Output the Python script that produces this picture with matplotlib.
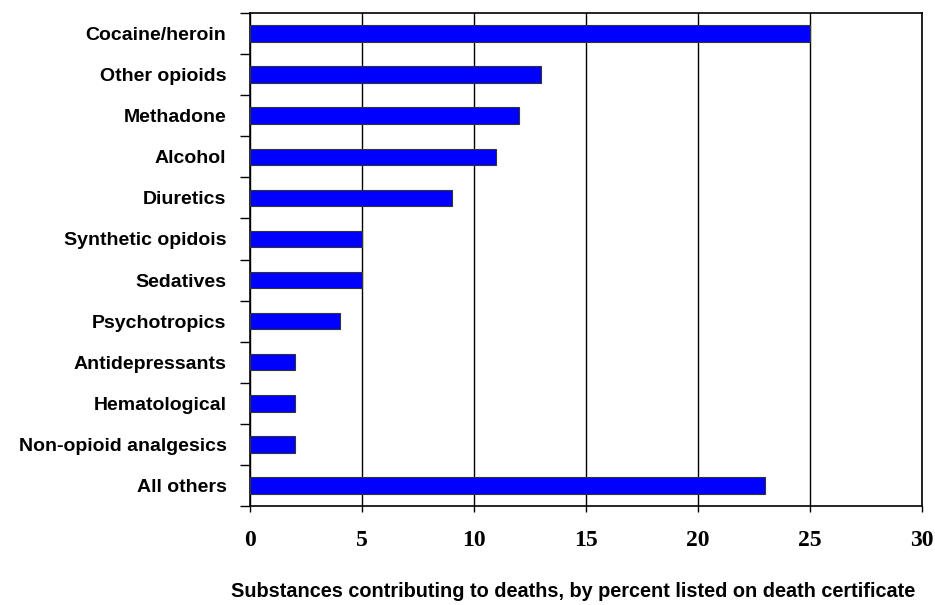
import matplotlib
matplotlib.use("Agg")
import matplotlib.pyplot as plt
import numpy as np

categories = [
    "Cocaine/heroin", "Other opioids", "Methadone", "Alcohol", "Diuretics",
    "Synthetic opidois", "Sedatives", "Psychotropics", "Antidepressants",
    "Hematological", "Non-opioid analgesics", "All others",
]
percent = [25, 13, 12, 11, 9, 5, 5, 4, 2, 2, 2, 23]
xticks = [0, 5, 10, 15, 20, 25, 30]
xlabel = "Substances contributing to deaths, by percent listed on death certificate"

fig = plt.figure(figsize=(9.35, 6.05), dpi=100)
ax = fig.add_axes([250 / 935, 99 / 605, 672 / 935, 493 / 605])

y = np.arange(len(categories))
ax.barh(y, percent, height=0.4, color="#0000ff", edgecolor="#333333", linewidth=0.8, zorder=3)

ax.set_xlim(0, 30)
ax.set_ylim(len(categories) - 0.5, -0.5)

ax.set_xticks(xticks)
ax.set_xticklabels([str(v) for v in xticks], family="Liberation Serif",
                   fontweight="bold", fontsize=17)
ax.xaxis.grid(True, color="black", linewidth=1.0, zorder=1)
ax.tick_params(axis="x", direction="out", length=4, width=1, pad=13)

# category labels sit at bar centres, tick marks at category boundaries
ax.set_yticks(y)
ax.set_yticklabels(categories, family="Liberation Sans", fontweight="bold", fontsize=14)
ax.tick_params(axis="y", which="major", length=0, pad=17)
ax.set_yticks(np.arange(len(categories) + 1) - 0.5, minor=True)
ax.tick_params(axis="y", which="minor", direction="out", length=7, width=1)

for side in ["top", "right", "left", "bottom"]:
    ax.spines[side].set_color("black")
    ax.spines[side].set_linewidth(1.2)

ax.set_xlabel(xlabel, family="Liberation Sans", fontweight="bold", fontsize=14.3)
ax.xaxis.set_label_coords((573.5 - 250) / 672, -76 / 493)

fig.savefig("out.png", dpi=100)
